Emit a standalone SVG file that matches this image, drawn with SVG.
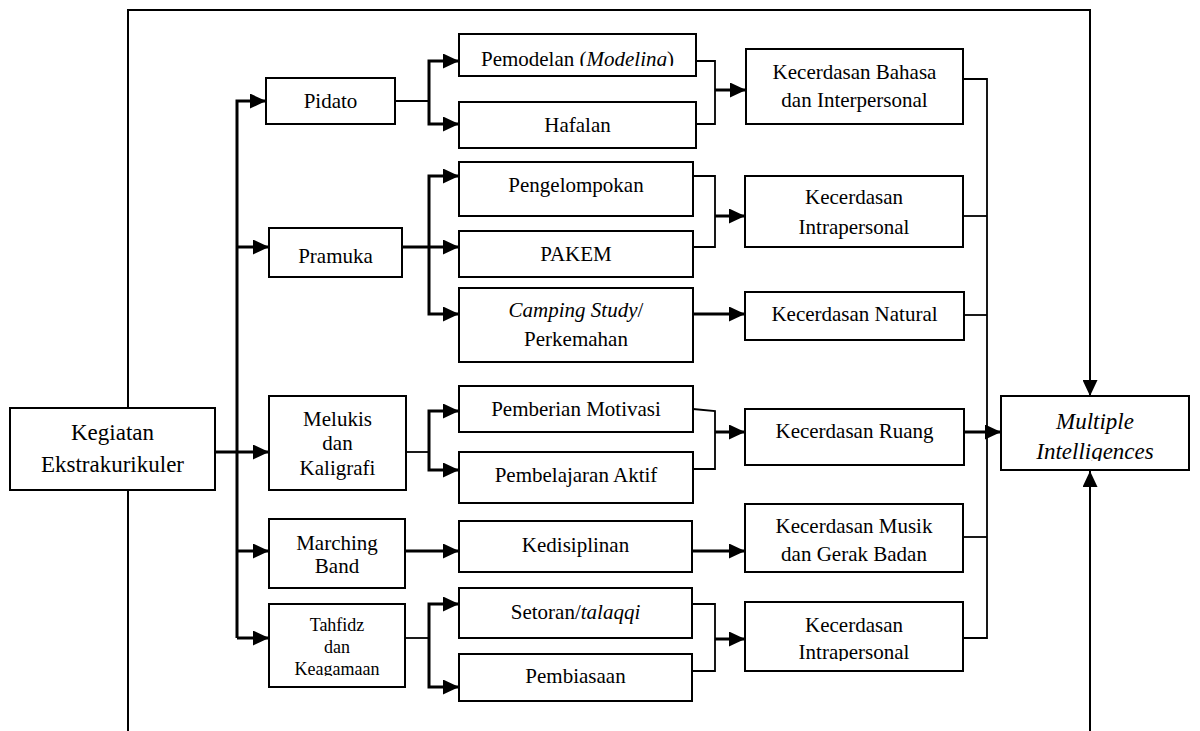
<svg xmlns="http://www.w3.org/2000/svg" width="1200" height="731" viewBox="0 0 1200 731" font-family="Liberation Serif, DejaVu Serif, serif">
<style>
.box{fill:#fff;stroke:#000;stroke-width:2}
text{font-size:21px;fill:#000;text-anchor:middle}
.big{font-size:23px}
.sm{font-size:18px}
.it{font-style:italic}
.thick{fill:none;stroke:#000;stroke-width:3}
.thin{fill:none;stroke:#000;stroke-width:1.8}
.frame{fill:none;stroke:#000;stroke-width:2}
</style>
<defs>
<marker id="ah" markerUnits="userSpaceOnUse" markerWidth="16" markerHeight="15" refX="16" refY="7.5" orient="auto">
<path d="M0,0 L16,7.5 L0,15 z" fill="#000"/>
</marker>
<clipPath id="c1"><rect x="440" y="30" width="270" height="36"/></clipPath>
<clipPath id="c2"><rect x="1000" y="396" width="190" height="65"/></clipPath>
<clipPath id="c3"><rect x="745" y="602" width="220" height="59"/></clipPath>
<clipPath id="c4"><rect x="269" y="604" width="136" height="72"/></clipPath>
</defs>
<rect width="1200" height="731" fill="#fff"/>

<g id="kegiatan"><rect class="box" x="10" y="408" width="205" height="82"/><text class="big" x="112.5" y="440" font-family="Liberation Serif">Kegiatan</text><text class="big" x="112.5" y="472" font-family="Liberation Serif">Ekstrakurikuler</text></g>

<g id="pidato"><rect class="box" x="266" y="78" width="129" height="46"/><text x="330.5" y="108">Pidato</text></g>
<g id="pramuka"><rect class="box" x="269" y="228" width="133" height="49"/><text x="335.5" y="263">Pramuka</text></g>
<g id="melukis"><rect class="box" x="269" y="396" width="137" height="94"/><text x="337.5" y="426">Melukis</text><text x="337.5" y="450">dan</text><text x="337.5" y="475">Kaligrafi</text></g>
<g id="marching"><rect class="box" x="269" y="519" width="136" height="69"/><text x="337" y="550">Marching</text><text x="337" y="573">Band</text></g>
<g id="tahfidz"><rect class="box" x="269" y="604" width="136" height="83"/><g clip-path="url(#c4)"><text class="sm" x="337" y="631">Tahfidz</text><text class="sm" x="337" y="653">dan</text><text class="sm" x="337" y="675">Keagamaan</text></g></g>

<g id="pemodelan"><rect class="box" x="459" y="34" width="237" height="42"/><text x="577.5" y="66" clip-path="url(#c1)">Pemodelan (<tspan class="it">Modeling</tspan>)</text></g>
<g id="hafalan"><rect class="box" x="459" y="102" width="237" height="46"/><text x="577.5" y="132">Hafalan</text></g>
<g id="pengelompokan"><rect class="box" x="459" y="162" width="234" height="54"/><text x="576" y="192">Pengelompokan</text></g>
<g id="pakem"><rect class="box" x="459" y="231" width="234" height="46"/><text x="576" y="261">PAKEM</text></g>
<g id="camping"><rect class="box" x="459" y="288" width="234" height="74"/><text x="576" y="317"><tspan class="it">Camping Study</tspan>/</text><text x="576" y="346">Perkemahan</text></g>
<g id="motivasi"><rect class="box" x="459" y="386" width="234" height="46"/><text x="576" y="416">Pemberian Motivasi</text></g>
<g id="aktif"><rect class="box" x="459" y="452" width="234" height="51"/><text x="576" y="482">Pembelajaran Aktif</text></g>
<g id="kedisiplinan"><rect class="box" x="459" y="521" width="233" height="51"/><text x="575.5" y="552">Kedisiplinan</text></g>
<g id="setoran"><rect class="box" x="459" y="588" width="233" height="50"/><text x="575.5" y="619">Setoran/<tspan class="it">talaqqi</tspan></text></g>
<g id="pembiasaan"><rect class="box" x="459" y="654" width="233" height="47"/><text x="575.5" y="683">Pembiasaan</text></g>

<g id="k-bahasa"><rect class="box" x="746" y="49" width="217" height="75"/><text x="854.5" y="79">Kecerdasan Bahasa</text><text x="854.5" y="107">dan Interpersonal</text></g>
<g id="k-intra1"><rect class="box" x="745" y="176" width="218" height="71"/><text x="854" y="204">Kecerdasan</text><text x="854" y="234">Intrapersonal</text></g>
<g id="k-natural"><rect class="box" x="745" y="292" width="219" height="48"/><text x="854.5" y="321">Kecerdasan Natural</text></g>
<g id="k-ruang"><rect class="box" x="745" y="409" width="219" height="56"/><text x="854.5" y="438">Kecerdasan Ruang</text></g>
<g id="k-musik"><rect class="box" x="745" y="504" width="218" height="68"/><text x="854" y="533">Kecerdasan Musik</text><text x="854" y="561">dan Gerak Badan</text></g>
<g id="k-intra2"><rect class="box" x="745" y="602" width="218" height="69"/><g clip-path="url(#c3)"><text x="854" y="632">Kecerdasan</text><text x="854" y="659">Intrapersonal</text></g></g>

<g id="mi"><rect class="box" x="1001" y="396" width="188" height="74"/><g clip-path="url(#c2)"><text class="big it" x="1095" y="429">Multiple</text><text class="big it" x="1095" y="459">Intelligences</text></g></g>

<g id="connectors">
<path class="frame" d="M128,408 V10 H1090 V396" marker-end="url(#ah)"/>
<path class="frame" d="M128,490 V731"/>
<path class="frame" d="M1090,731 V471" marker-end="url(#ah)"/>

<path class="thick" d="M237,638 V101 H266" marker-end="url(#ah)"/>
<path class="thick" d="M237,247 H269" marker-end="url(#ah)"/>
<path class="thick" d="M215,452 H269" marker-end="url(#ah)"/>
<path class="thick" d="M237,551 H269" marker-end="url(#ah)"/>
<path class="thick" d="M237,638 H269" marker-end="url(#ah)"/>

<path class="thin" d="M395,101 H429"/>
<path class="thick" d="M429,101 V61 H459" marker-end="url(#ah)"/>
<path class="thick" d="M429,101 V124 H459" marker-end="url(#ah)"/>
<path class="thin" d="M696,61 H715 V124 H696"/>
<path class="thick" d="M715,90 H746" marker-end="url(#ah)"/>

<path class="thick" d="M402,247 H459" marker-end="url(#ah)"/>
<path class="thick" d="M429,247 V176 H459" marker-end="url(#ah)"/>
<path class="thick" d="M429,247 V314 H459" marker-end="url(#ah)"/>
<path class="thin" d="M693,176 H715 V247 H693"/>
<path class="thick" d="M715,216 H745" marker-end="url(#ah)"/>
<path class="thick" d="M693,314 H745" marker-end="url(#ah)"/>

<path class="thin" d="M406,452 H429"/>
<path class="thick" d="M429,452 V411 H459" marker-end="url(#ah)"/>
<path class="thick" d="M429,452 V470 H459" marker-end="url(#ah)"/>
<path class="thin" d="M693,409 L715,411 V469 H693"/>
<path class="thick" d="M715,432 H745" marker-end="url(#ah)"/>

<path class="thick" d="M405,551 H459" marker-end="url(#ah)"/>
<path class="thick" d="M692,551 H745" marker-end="url(#ah)"/>

<path class="thin" d="M405,638 H429"/>
<path class="thick" d="M429,638 V604 H459" marker-end="url(#ah)"/>
<path class="thick" d="M429,638 V687 H459" marker-end="url(#ah)"/>
<path class="thin" d="M692,604 H715 V671 H692"/>
<path class="thick" d="M715,639 H745" marker-end="url(#ah)"/>

<path class="thin" d="M963,79 H987 V638 H963"/>
<path class="thin" d="M963,216 H987"/>
<path class="thin" d="M964,315 H987"/>
<path class="thin" d="M963,537 H987"/>
<path class="thick" d="M964,432 H1001" marker-end="url(#ah)"/>
</g>
</svg>
